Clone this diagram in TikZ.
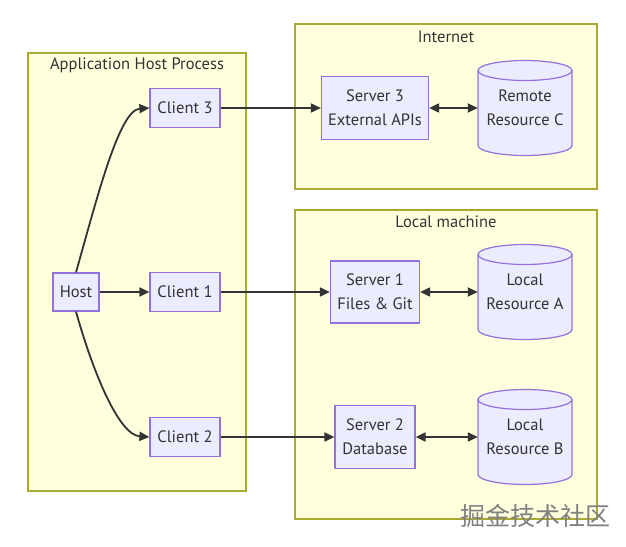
\documentclass[tikz,border=0pt]{standalone}
\usepackage{fontspec}
\setmainfont{PT Sans}
\newfontfamily\cjk{Noto Sans CJK SC}
\usetikzlibrary{arrows.meta,positioning}

\definecolor{clusterfill}{HTML}{FFFFDE}
\definecolor{clusterline}{HTML}{AAAA33}
\definecolor{nodefill}{HTML}{ECECFF}
\definecolor{nodeline}{HTML}{9370DB}
\definecolor{edgeline}{HTML}{333333}

\begin{document}
\begin{tikzpicture}[x=1pt,y=-1pt,text=edgeline,font=\fontsize{16.5}{24}\selectfont]
  \tikzstyle{cluster}=[draw=clusterline,fill=clusterfill,line width=1.2pt]
  \tikzstyle{title}=[inner sep=0pt]
  \tikzstyle{box}=[rectangle,draw=nodeline,fill=nodefill,line width=1.2pt,inner sep=0pt,align=center]
  \tikzstyle{client}=[box,minimum width=70,minimum height=39]
  \tikzstyle{store}=[rectangle,inner sep=0pt,align=center,minimum width=94,minimum height=95]
  \tikzstyle{can}=[draw=nodeline,fill=nodefill,line width=1.2pt]
  \tikzstyle{link}=[draw=edgeline,line width=1.8pt,-{Triangle[length=10pt,width=9pt]}]
  \tikzstyle{both}=[link,{Triangle[length=10pt,width=9pt]}-{Triangle[length=10pt,width=9pt]}]

  \useasboundingbox (0,0) rectangle (626,546);

  % Draw the clusters
  \draw[cluster] (28,53) rectangle (246,491);
  \node[title] (apt) at (137,65) {Application Host Process};
  \draw[cluster] (295,24) rectangle (597,189);
  \node[title] (int) at (446,37) {Internet};
  \draw[cluster] (295,210) rectangle (597,519);
  \node[title] (loc) at (446,222) {Local machine};

  % Draw the host and the clients
  \node[box, minimum width=46, minimum height=38] (host) at (76,292) {Host};
  \node[client] (C-3) at (185,108) {Client 3};
  \node[client] (C-1) at (185,292) {Client 1};
  \node[client] (C-2) at (185,437) {Client 2};

  % Draw the servers
  \node[box, minimum width=107, minimum height=63] (S-3) at (375,108) {Server 3\\External APIs};
  \node[box, minimum width=89, minimum height=62] (S-1) at (375,292) {Server 1\\Files \& Git};
  \node[box, minimum width=80, minimum height=63] (S-2) at (375,437) {Server 2\\Database};

  % Draw the resources (cylinder outline first, text node on top)
  \foreach \r / \y in {C/108,A/292,B/437}
  \path (525,\y) coordinate (K-\r);
  \foreach \r in {C,A,B} {
    \draw[can] ([xshift=-47pt,yshift=37.5pt]K-\r) -- ([xshift=-47pt,yshift=-37.5pt]K-\r)
      arc[start angle=180,end angle=360,x radius=47pt,y radius=10pt]
      -- ([xshift=47pt,yshift=37.5pt]K-\r)
      arc[start angle=0,end angle=180,x radius=47pt,y radius=10pt] -- cycle;
    \draw[can,fill=none] ([xshift=-47pt,yshift=37.5pt]K-\r)
      arc[start angle=180,end angle=360,x radius=47pt,y radius=10pt];
  }
  \node[store] (R-C) at (K-C) {Remote\\Resource C};
  \node[store] (R-A) at (K-A) {Local\\Resource A};
  \node[store] (R-B) at (K-B) {Local\\Resource B};

  % Connect nodes
  \draw[link] (host.north) .. controls +(22,-78) and +(-30,2) .. (C-3.west);
  \draw[link] (host.east) -- (C-1.west);
  \draw[link] (host.south) .. controls +(18,64) and +(-30,-2) .. (C-2.west);

  \foreach \n in {1,2,3}
  \draw[link] (C-\n.east) -- (S-\n.west);

  \foreach \n / \r in {3/C,1/A,2/B}
  \draw[both] (S-\n.east) -- (R-\r.west);

  \node[text=black!50, font=\cjk\fontsize{25}{27}\selectfont] (mark) at (535,516) {掘金技术社区};
\end{tikzpicture}
\end{document}
